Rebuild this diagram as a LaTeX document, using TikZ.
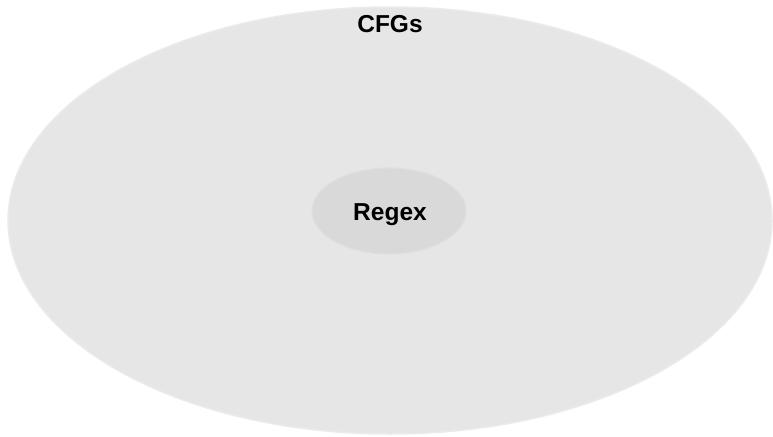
\documentclass[tikz,border=0pt]{standalone}
\usepackage{fontspec}
\setmainfont{Liberation Sans}
\definecolor{outerfill}{HTML}{E6E6E6}
\definecolor{outerline}{HTML}{EBEBEB}
\definecolor{innerfill}{HTML}{D9D9D9}
\definecolor{innerline}{HTML}{DFDFDF}
\begin{document}
\begin{tikzpicture}[x=1pt,y=-1pt,
  setlabel/.style={anchor=base,inner sep=0pt,font=\fontsize{24.5}{28}\selectfont\bfseries,text=black}]
  \useasboundingbox (0,0) rectangle (773,436);
  % outer set: context-free grammars
  \draw[fill=outerfill,draw=outerline,line width=1.5pt] (390,220.5) ellipse [x radius=382,y radius=213.5];
  \node[setlabel] (cfg) at (390,33) {CFGs};
  % inner set: regular expressions
  \draw[fill=innerfill,draw=innerline,line width=1.2pt] (389,211) ellipse [x radius=77,y radius=43];
  \node[setlabel] (re) at (390,220) {Regex};
\end{tikzpicture}
\end{document}
